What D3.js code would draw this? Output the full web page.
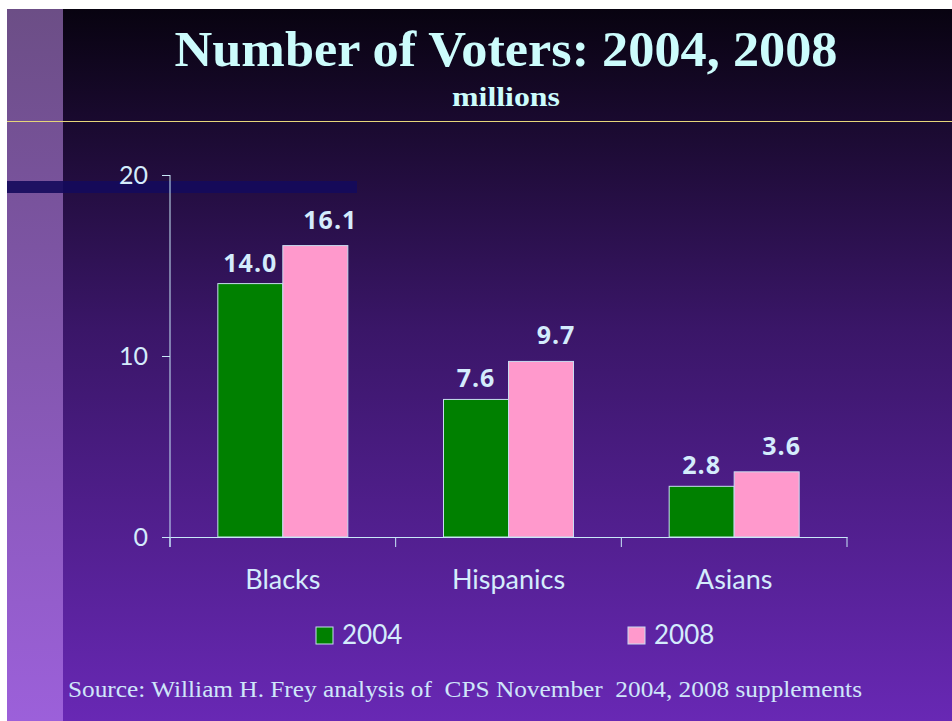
<!DOCTYPE html>
<html>
<head>
<meta charset="utf-8">
<script src="https://cdn.jsdelivr.net/npm/d3@7"></script>
<style>
  html, body { margin: 0; padding: 0; background: #ffffff; }
  svg { display: block; }
</style>
</head>
<body>
<script>
// Voters by group, in millions
const categories = ["Blacks", "Hispanics", "Asians"];
const years = ["2004", "2008"];
const values2004 = [14.0, 7.6, 2.8];
const values2008 = [16.1, 9.7, 3.6];
const yTicks = [0, 10, 20];

const W = 952, H = 721;
const svg = d3.select("body").append("svg").attr("width", W).attr("height", H);

// Backdrop: dark-to-violet slide gradient with a lighter side strip
const defs = svg.append("defs");
const bg = defs.append("linearGradient").attr("id", "bg").attr("x1", 0).attr("y1", 0).attr("x2", 0).attr("y2", 1);
bg.append("stop").attr("offset", "0%").attr("stop-color", "#080310");
bg.append("stop").attr("offset", "45%").attr("stop-color", "#3a1668");
bg.append("stop").attr("offset", "100%").attr("stop-color", "#6828b4");
const strip = defs.append("linearGradient").attr("id", "strip").attr("x1", 0).attr("y1", 0).attr("x2", 0).attr("y2", 1);
strip.append("stop").attr("offset", "0%").attr("stop-color", "#6c4e86");
strip.append("stop").attr("offset", "100%").attr("stop-color", "#9c60da");

svg.append("rect").attr("x", 7).attr("y", 9).attr("width", W - 7).attr("height", H - 9).attr("fill", "url(#bg)");
svg.append("rect").attr("x", 7).attr("y", 9).attr("width", 56).attr("height", H - 9).attr("fill", "url(#strip)");
svg.append("line").attr("x1", 7).attr("x2", W).attr("y1", 121.5).attr("y2", 121.5)
  .attr("stroke", "#e6d57a").attr("stroke-width", 1);
svg.append("rect").attr("x", 7).attr("y", 181).attr("width", 350).attr("height", 12)
  .attr("fill", "#140a5c").attr("opacity", 0.9);

// Titles
svg.append("text").attr("x", 506).attr("y", 66).attr("text-anchor", "middle")
  .attr("font-family", "Liberation Serif, serif").attr("font-weight", "bold").attr("font-size", 50)
  .attr("textLength", 663).attr("lengthAdjust", "spacingAndGlyphs")
  .attr("fill", "#ccfcfc").text("Number of Voters: 2004, 2008");
svg.append("text").attr("x", 506).attr("y", 106).attr("text-anchor", "middle")
  .attr("font-family", "Liberation Serif, serif").attr("font-weight", "bold").attr("font-size", 27)
  .attr("textLength", 108).attr("lengthAdjust", "spacingAndGlyphs")
  .attr("fill", "#ccfcfc").text("millions");

// Scales
const x0 = d3.scaleBand().domain(categories).range([170, 847]).paddingInner(0).paddingOuter(0);
const x1 = d3.scaleBand().domain(years).range([0, 130]);
const groupOffset = (x0.bandwidth() - 130) / 2;
const y = d3.scaleLinear().domain([0, 20]).range([537, 175]);

const axisColor = "#c8e8f8";
const textColor = "#d4ecfc";

// Bars
const colors = { "2004": "#008000", "2008": "#ff99cc" };
const series = { "2004": values2004, "2008": values2008 };
const rows = [];
categories.forEach((c, i) => years.forEach(yr => rows.push({ c, yr, v: series[yr][i] })));

svg.append("g").selectAll("rect").data(rows).join("rect")
  .attr("x", d => x0(d.c) + groupOffset + x1(d.yr))
  .attr("y", d => y(d.v))
  .attr("width", x1.bandwidth())
  .attr("height", d => y(0) - y(d.v))
  .attr("fill", d => colors[d.yr])
  .attr("stroke", "#c8dcf0").attr("stroke-width", 1);

// Value labels
svg.append("g").selectAll("text").data(rows).join("text")
  .attr("x", d => x0(d.c) + groupOffset + x1(d.yr) + x1.bandwidth() / 2 + (d.yr === "2008" ? 15 : 0))
  .attr("y", d => y(d.v) - (d.yr === "2008" ? 17 : 12))
  .attr("text-anchor", "middle")
  .attr("font-family", "Open Sans, sans-serif").attr("font-weight", "bold").attr("font-size", 25)
  .attr("letter-spacing", 1)
  .attr("fill", textColor)
  .text(d => d.v.toFixed(1));

// Y axis
const yAxis = svg.append("g").attr("transform", "translate(170,0)")
  .call(d3.axisLeft(y).tickValues(yTicks).tickSize(8).tickPadding(14).tickFormat(d3.format("d")));
yAxis.select(".domain").attr("stroke", axisColor).attr("d", "M0,175V547");
yAxis.selectAll(".tick line").attr("stroke", axisColor);
yAxis.selectAll(".tick text").attr("fill", textColor)
  .attr("font-family", "Lato, sans-serif").attr("font-size", 25);

// X axis
const xAxis = svg.append("g").attr("transform", "translate(0,537)")
  .call(d3.axisBottom(x0).tickSize(0).tickPadding(33));
xAxis.select(".domain").attr("stroke", axisColor);
xAxis.selectAll(".tick text").attr("fill", textColor)
  .attr("font-family", "Lato, sans-serif").attr("font-size", 27);
const bounds = categories.map(c => x0(c)).concat([x0.range()[1]]);
xAxis.selectAll("line.sep").data(bounds).join("line").attr("class", "sep")
  .attr("x1", d => d).attr("x2", d => d).attr("y1", 0).attr("y2", 10)
  .attr("stroke", axisColor);

// Legend
const legendX = { "2004": 316, "2008": 628 };
const lg = svg.append("g").selectAll("g").data(years).join("g")
  .attr("transform", d => `translate(${legendX[d]},627)`);
lg.append("rect").attr("width", 17).attr("height", 17)
  .attr("fill", d => colors[d]).attr("stroke", "#c8dcf0").attr("stroke-width", 1);
lg.append("text").attr("x", 26).attr("y", 17)
  .attr("font-family", "Lato, sans-serif").attr("font-size", 26)
  .attr("fill", textColor).text(d => d);

// Source note
svg.append("text").attr("x", 68).attr("y", 697)
  .attr("font-family", "Liberation Serif, serif").attr("font-size", 24)
  .attr("textLength", 794).attr("lengthAdjust", "spacingAndGlyphs")
  .attr("fill", "#cfe6fa").attr("xml:space", "preserve")
  .text("Source: William H. Frey analysis of  CPS November  2004, 2008 supplements");
</script>
</body>
</html>
